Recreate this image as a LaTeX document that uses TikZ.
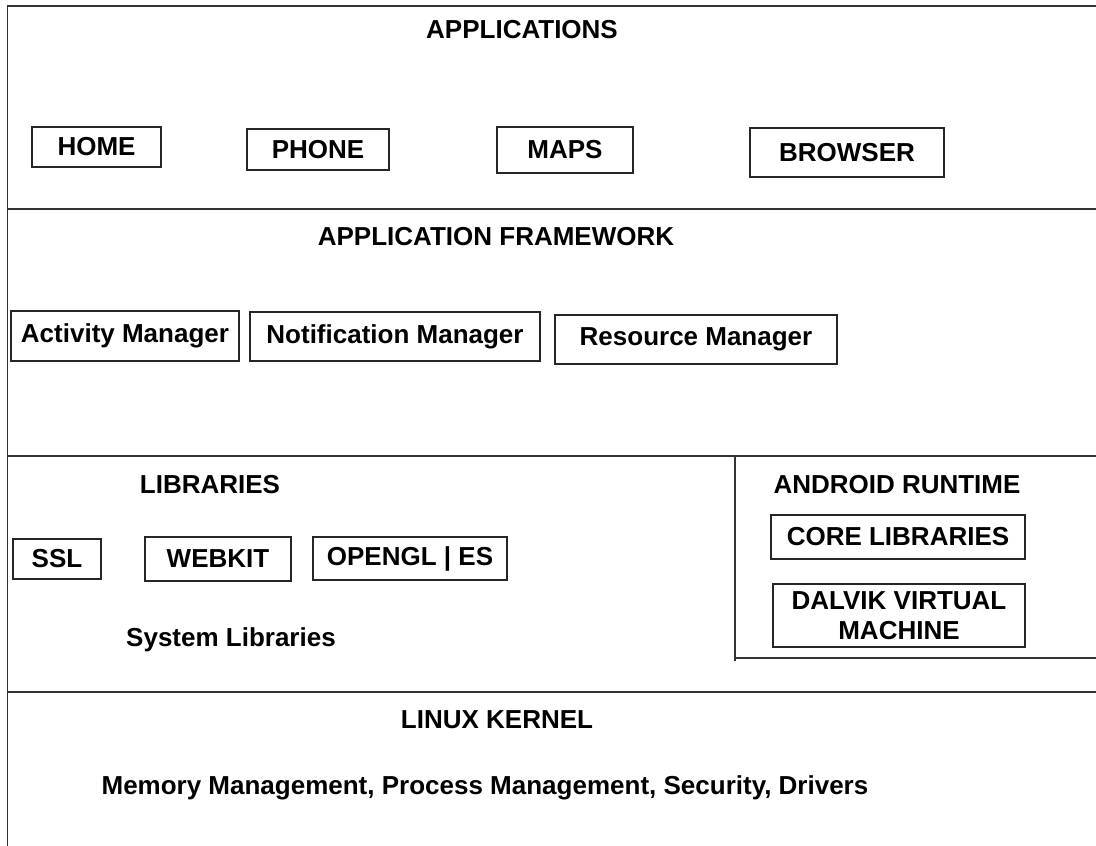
\documentclass[tikz,border=0pt]{standalone}
\usepackage{fontspec}
\setmainfont{Liberation Sans}
\begin{document}
\begin{tikzpicture}[x=1pt,y=-1pt,
  txt/.style={font=\fontsize{26}{30}\selectfont\bfseries, inner sep=0pt, anchor=center},
  box/.style={txt, draw=black!85, line width=1.4pt},
  rule/.style={draw=black!80, line width=1.6pt}]
\useasboundingbox (0,0) rectangle (1096,846);
% frame and layer dividers
\draw[rule] (7.5,846) -- (7.5,6) -- (1096,6);
\draw[rule] (7.5,209) -- (1096,209);
\draw[rule] (7.5,456) -- (1096,456);
\draw[rule] (735,456) -- (735,661);
\draw[rule] (735,658) -- (1096,658);
\draw[rule] (7.5,692) -- (1096,692);
% applications
\node[txt] (apps) at (522,30) {APPLICATIONS};
\node[box, minimum width=129pt, minimum height=40pt] (home) at (96.5,147) {HOME};
\node[box, minimum width=142pt, minimum height=41pt] (phone) at (318,149.5) {PHONE};
\node[box, minimum width=136pt, minimum height=46pt] (maps) at (565,150) {MAPS};
\node[box, minimum width=194pt, minimum height=49pt] (browser) at (847,152.5) {BROWSER};
% framework
\node[txt] (fw) at (496,237) {APPLICATION FRAMEWORK};
\node[box, minimum width=228pt, minimum height=50pt] (act) at (125,336) {Activity Manager};
\node[box, minimum width=290pt, minimum height=49pt] (notif) at (395,336.5) {Notification Manager};
\node[box, minimum width=282pt, minimum height=49pt] (res) at (696,339.5) {Resource Manager};
% libraries
\node[txt] (libs) at (210,485) {LIBRARIES};
\node[box, minimum width=88pt, minimum height=40pt] (ssl) at (57,559) {SSL};
\node[box, minimum width=146pt, minimum height=44pt] (webkit) at (218,559) {WEBKIT};
\node[box, minimum width=194pt, minimum height=43pt] (opengl) at (410,558.5) {OPENGL | ES};
\node[txt] (syslibs) at (231,640) {System Libraries};
% android runtime
\node[txt] (art) at (897,485) {ANDROID RUNTIME};
\node[box, minimum width=254pt, minimum height=44pt] (core) at (898,537) {CORE LIBRARIES};
\node[box, minimum width=252pt, minimum height=63pt, align=center] (dalvik) at (899,615.5) {DALVIK VIRTUAL\\MACHINE};
% kernel
\node[txt] (kernel) at (497,720) {LINUX KERNEL};
\node[txt] (kdesc) at (485,788) {Memory Management, Process Management, Security, Drivers};
\end{tikzpicture}
\end{document}
